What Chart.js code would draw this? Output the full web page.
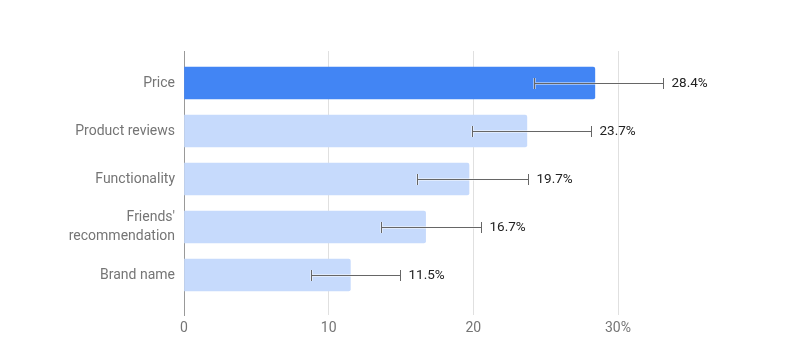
<!DOCTYPE html>
<html>
<head>
<meta charset="utf-8">
<script src="https://cdn.jsdelivr.net/npm/chart.js@4"></script>
<style>
  html, body { margin: 0; padding: 0; background: #fff; }
  #wrap { width: 789px; height: 360px; }
</style>
</head>
<body>
<div id="wrap"><canvas id="chart" width="789" height="360"></canvas></div>
<script>
// 📌 data
const categories = ["Price", "Product reviews", "Functionality", ["Friends'", "recommendation"], "Brand name"];
const values = [28.4, 23.7, 19.7, 16.7, 11.5];
const errLow = [24.2, 19.9, 16.1, 13.6, 8.8];
const errHigh = [33.1, 28.1, 23.8, 20.5, 14.9];
const xTicks = [0, 10, 20, 30];
const barColors = ["#4285f4", "#c6dafc", "#c6dafc", "#c6dafc", "#c6dafc"];

// ✅ error bars + value labels drawn through the scales
const errorBarPlugin = {
    id: "errorBars",
    afterDatasetsDraw(chart) {
        let ctx = chart.ctx;
        let xs = chart.scales.x;
        let ys = chart.scales.y;
        ctx.save();
        values.forEach((v, i) => {
            let y = Math.round(ys.getPixelForValue(i)) + 0.5;
            let x1 = Math.round(xs.getPixelForValue(errLow[i])) + 0.5;
            let x2 = Math.round(xs.getPixelForValue(errHigh[i])) + 0.5;
            let xb = xs.getPixelForValue(v);

            const drawBar = () => {
                ctx.beginPath();
                ctx.moveTo(x1, y); ctx.lineTo(x2, y);
                ctx.moveTo(x1, y - 5.5); ctx.lineTo(x1, y + 5.5);
                ctx.moveTo(x2, y - 5.5); ctx.lineTo(x2, y + 5.5);
                ctx.stroke();
            };
            ctx.strokeStyle = "rgba(255,255,255,0.45)";
            ctx.lineWidth = 3;
            drawBar();
            ctx.strokeStyle = "#666666";
            ctx.lineWidth = 1;
            drawBar();

            ctx.fillStyle = "#222222";
            ctx.font = "13.5px Roboto";
            ctx.textAlign = "left";
            ctx.textBaseline = "middle";
            ctx.fillText(v + "%", Math.max(xb, x2) + 8, y);
        });
        ctx.restore();
    }
};

let ctx = document.getElementById("chart").getContext("2d");
new Chart(ctx, {
    type: "bar",
    data: {
        datasets: [{
            data: values.map((v, i) => ({ x: v, y: i })),
            backgroundColor: barColors,
            barThickness: 32,
            borderRadius: 2,
            borderSkipped: "start"
        }]
    },
    options: {
        responsive: false,
        animation: false,
        indexAxis: "y",
        layout: {
            padding: { top: 51, right: 171, bottom: 0, left: 0 }
        },
        plugins: {
            legend: { display: false },
            tooltip: { enabled: false }
        },
        scales: {
            x: {
                type: "linear",
                min: 0,
                max: 30,
                afterBuildTicks: (scale) => { scale.ticks = xTicks.map(t => ({ value: t })); },
                afterFit: (scale) => { scale.height = 45; },
                ticks: {
                    callback: (value) => value === 30 ? "30%" : String(value),
                    color: "#757575",
                    font: { family: "Roboto", size: 14 },
                    padding: 5,
                    maxRotation: 0
                },
                grid: { color: "#e0e0e0", drawTicks: false },
                border: { display: false }
            },
            y: {
                type: "linear",
                reverse: true,
                offset: false,
                min: -0.667,
                max: 4.833,
                afterFit: (scale) => { scale.width = 184; },
                ticks: {
                    stepSize: 1,
                    includeBounds: false,
                    autoSkip: false,
                    callback: (value) => Number.isInteger(value) ? categories[value] : "",
                    color: "#757575",
                    font: { family: "Roboto", size: 14, lineHeight: 1.3 },
                    padding: 9
                },
                grid: { display: false, drawTicks: false, offset: false },
                border: { display: true, color: "#999999", width: 1 }
            }
        }
    },
    plugins: [errorBarPlugin]
});
</script>
</body>
</html>
